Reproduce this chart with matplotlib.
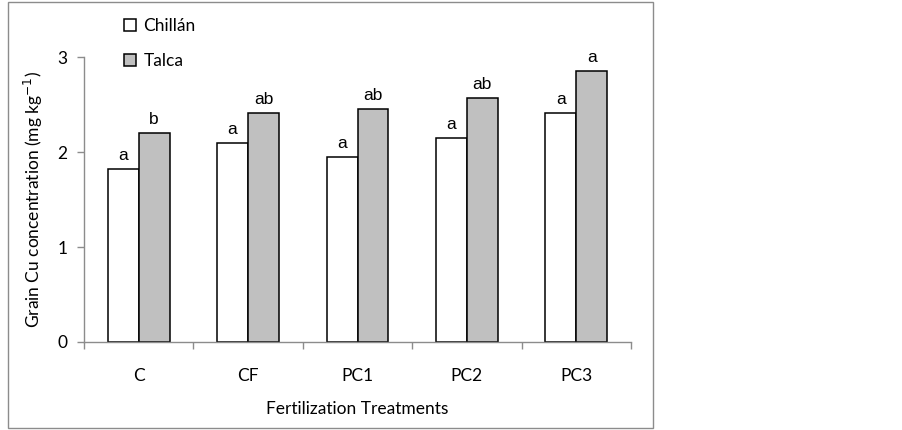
import matplotlib
matplotlib.use('Agg')
import matplotlib.pyplot as plt
from matplotlib.patches import Rectangle
import numpy as np

treatments = ['C', 'CF', 'PC1', 'PC2', 'PC3']
chillan = [1.82, 2.09, 1.95, 2.15, 2.41]
talca = [2.20, 2.41, 2.45, 2.57, 2.85]
chillan_letters = ['a', 'a', 'a', 'a', 'a']
talca_letters = ['b', 'ab', 'ab', 'ab', 'a']

W, H = 902, 430
fig = plt.figure(figsize=(W / 100, H / 100), dpi=100)
ax = fig.add_axes([84 / W, (H - 342) / H, (631 - 84) / W, (342 - 57) / H])

# outer chart frame
fig.patches.append(Rectangle((8 / W, 2 / H), (653 - 8) / W, (428 - 2) / H,
                             transform=fig.transFigure, fill=False,
                             edgecolor='#8c8c8c', linewidth=1.0))

x = np.arange(len(treatments))
bw = 0.283
ax.bar(x - bw / 2, chillan, bw, color='white', edgecolor='black', linewidth=1.1, label='Chillán')
ax.bar(x + bw / 2, talca, bw, color='#c0c0c0', edgecolor='black', linewidth=1.1, label='Talca')

for xi, v, t in zip(x, chillan, chillan_letters):
    ax.annotate(t, (xi - bw / 2, v), xytext=(0, 4.5), textcoords='offset points',
                ha='center', va='bottom', fontsize=12.5, family='Liberation Sans')
for xi, v, t in zip(x, talca, talca_letters):
    ax.annotate(t, (xi + bw / 2, v), xytext=(0, 4.5), textcoords='offset points',
                ha='center', va='bottom', fontsize=12.5, family='Liberation Sans')

ax.set_xlim(-0.5, len(treatments) - 0.5)
ax.set_ylim(0, 3)
ax.set_yticks([0, 1, 2, 3])
ax.set_xticks(np.arange(-0.5, len(treatments)), minor=False)
ax.set_xticklabels([])
ax.set_xticks(x, minor=True)
ax.set_xticklabels(treatments, minor=True)
ax.tick_params(axis='x', which='minor', length=0, pad=19, labelsize=12.5)
ax.tick_params(axis='x', which='major', length=5, color='#8c8c8c', width=1)
ax.tick_params(axis='y', length=5, color='#8c8c8c', width=1, labelsize=12.5, pad=7)

for s in ['top', 'right']:
    ax.spines[s].set_visible(False)
for s in ['left', 'bottom']:
    ax.spines[s].set_color('#8c8c8c')
    ax.spines[s].set_linewidth(1.0)

for lab in ax.get_xticklabels(minor=True) + ax.get_yticklabels():
    lab.set_family('Lato')

ax.set_xlabel('Fertilization Treatments', fontsize=12.5, family='Lato', labelpad=12)
ax.set_ylabel('Grain Cu concentration (mg kg$^{-1}$)', fontsize=12.5, family='Lato', labelpad=9)

leg = ax.legend(loc='upper left', bbox_to_anchor=(0.045, 1.19), frameon=False,
                prop={'family': 'Lato', 'size': 12.5}, handlelength=0.7, handleheight=0.7,
                handletextpad=0.4, labelspacing=1.05)

fig.savefig('out.png', dpi=100)
